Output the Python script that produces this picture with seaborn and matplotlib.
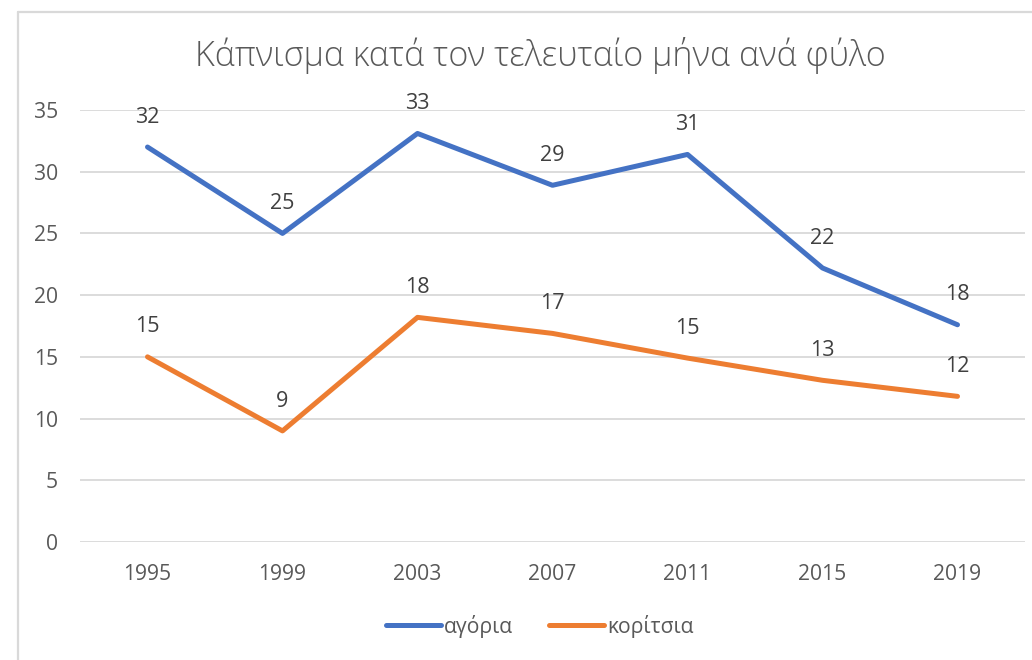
import matplotlib
matplotlib.use("Agg")
import matplotlib.pyplot as plt
import seaborn as sns
import pandas as pd
from matplotlib.lines import Line2D

years = ["1995", "1999", "2003", "2007", "2011", "2015", "2019"]
boys = [32.0, 25.0, 33.1, 28.9, 31.4, 22.2, 17.6]
girls = [15.0, 9.0, 18.2, 16.9, 14.9, 13.1, 11.8]
series_names = ["αγόρια", "κορίτσια"]
colors = ["#4472C4", "#ED7D31"]
title = "Κάπνισμα κατά τον τελευταίο μήνα ανά φύλο"

sns.set_theme(style="white")
plt.rcParams["font.family"] = ["Open Sans", "DejaVu Sans"]
text_color = "#595959"

df = pd.DataFrame({
    "year": years * 2,
    "value": boys + girls,
    "series": [series_names[0]] * len(years) + [series_names[1]] * len(years),
})
df["pos"] = list(range(len(years))) * 2

fig = plt.figure(figsize=(10.32, 6.6), dpi=100)
ax = fig.add_axes([80 / 1032, 1 - 542 / 660, (1025 - 80) / 1032, (542 - 110) / 660])

sns.lineplot(data=df, x="pos", y="value", hue="series", palette=colors,
             linewidth=3.6, ax=ax, legend=False, solid_capstyle="round")

for vals, col in zip([boys, girls], colors):
    for i, v in enumerate(vals):
        ax.annotate(f"{round(v):d}", (i, v), xytext=(0, 21.5), textcoords="offset points",
                    ha="center", va="center", fontsize=15.5, color="#404040")

ax.set_xlim(-0.5, len(years) - 0.5)
ax.set_ylim(0, 35)
ax.set_yticks(range(0, 36, 5))
ax.set_xticks(range(len(years)))
ax.set_xticklabels(years)
ax.set_xlabel("")
ax.set_ylabel("")
ax.grid(axis="y", color="#D9D9D9", linewidth=1.3)
ax.set_axisbelow(True)
for s in ax.spines.values():
    s.set_visible(False)
ax.tick_params(axis="both", length=0, labelsize=15.2, labelcolor=text_color)
ax.tick_params(axis="y", pad=16)
ax.tick_params(axis="x", pad=16)

fig.text(540 / 1032, 1 - 55 / 660, title, ha="center", va="center",
         fontsize=24.5, color=text_color, fontweight="light")

handles = [Line2D([0], [0], color=c, lw=3.6, solid_capstyle="round") for c in colors]
leg = fig.legend(handles, series_names, loc="center", bbox_to_anchor=(540 / 1032, 1 - 626 / 660),
                 ncol=2, frameon=False, fontsize=15.2, handlelength=2.6, handletextpad=0.15,
                 columnspacing=1.7, labelcolor=text_color)

fig.add_artist(Line2D([17.5 / 1032, 17.5 / 1032], [0, 1 - 11.5 / 660], color="#D9D9D9", lw=1.6))
fig.add_artist(Line2D([17.5 / 1032, 1], [1 - 11.5 / 660, 1 - 11.5 / 660], color="#D9D9D9", lw=1.6))

fig.savefig("out.png", dpi=100)
